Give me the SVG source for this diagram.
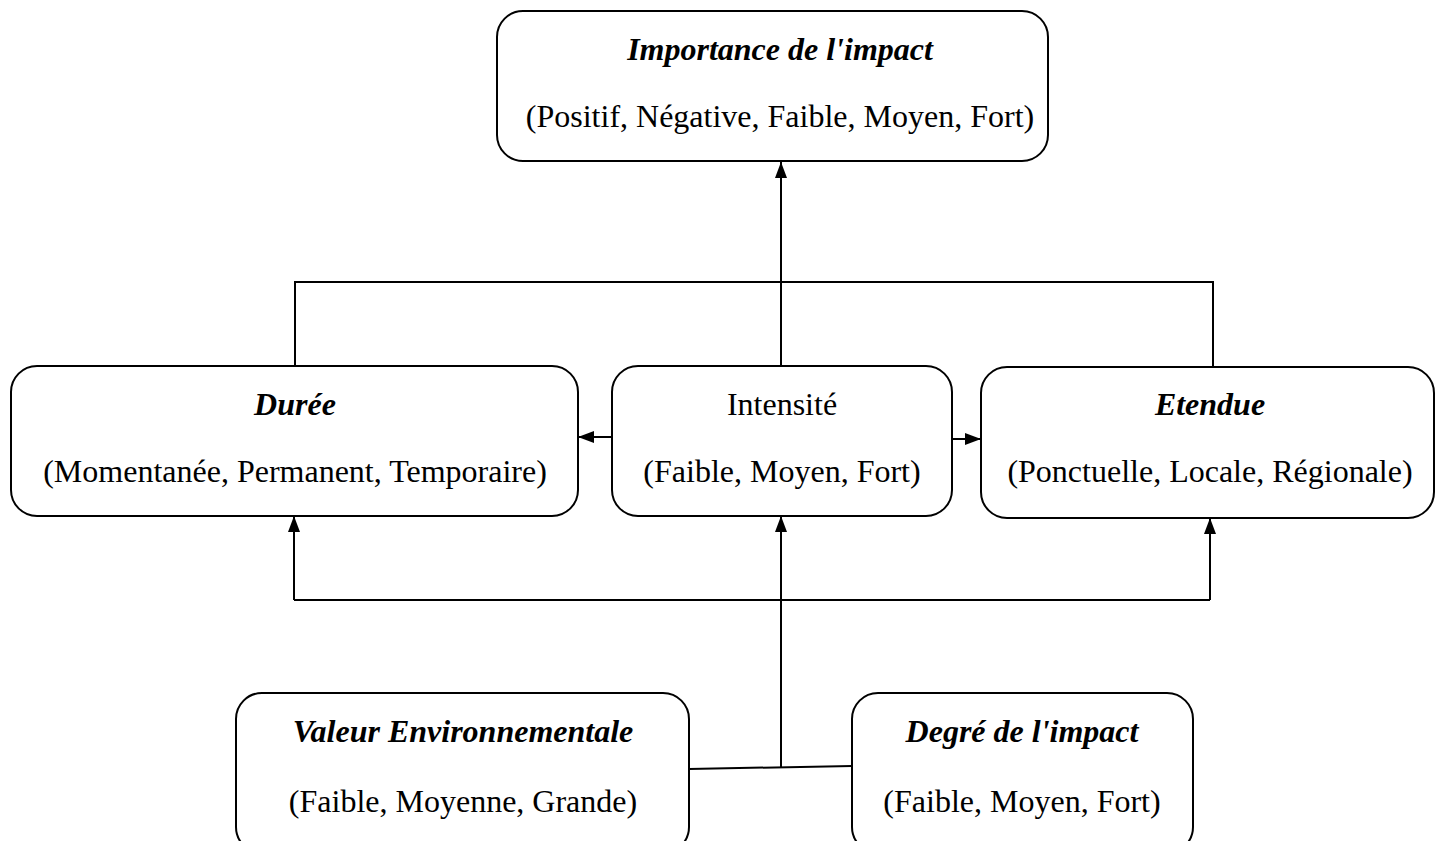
<svg xmlns="http://www.w3.org/2000/svg" width="1446" height="841" viewBox="0 0 1446 841">
<style>
.box{fill:#fff;stroke:#000;stroke-width:2}
.t{font-family:"Liberation Serif","Times New Roman",serif;font-size:32px;fill:#000;text-anchor:middle}
.bi{font-weight:bold;font-style:italic}
.c{fill:none;stroke:#000;stroke-width:2}
</style>
<defs>
<marker id="ah" viewBox="0 0 16 12" refX="16" refY="6" markerWidth="16" markerHeight="12" markerUnits="userSpaceOnUse" orient="auto">
<path d="M0,0 L16,6 L0,12 Z" fill="#000"/>
</marker>
</defs>
<g id="connectors">
<line class="c" x1="781" y1="366" x2="781" y2="162" marker-end="url(#ah)"/>
<polyline class="c" points="295,366 295,282 1214,282"/>
<line class="c" x1="1213" y1="282" x2="1213" y2="367"/>
<line class="c" x1="612" y1="437" x2="578" y2="437" marker-end="url(#ah)"/>
<line class="c" x1="952" y1="439" x2="981" y2="439" marker-end="url(#ah)"/>
<line class="c" x1="294" y1="600" x2="1210" y2="600"/>
<line class="c" x1="294" y1="600" x2="294" y2="516" marker-end="url(#ah)"/>
<line class="c" x1="1210" y1="600" x2="1210" y2="518" marker-end="url(#ah)"/>
<line class="c" x1="781" y1="767" x2="781" y2="516" marker-end="url(#ah)"/>
<line class="c" x1="689" y1="769" x2="852" y2="766"/>
</g>
<g id="importance">
<rect class="box" x="497" y="11" width="551" height="150" rx="26"/>
<text class="t bi" x="780" y="60">Importance de l'impact</text>
<text class="t" x="780" y="127">(Positif, Négative, Faible, Moyen, Fort)</text>
</g>
<g id="duree">
<rect class="box" x="11" y="366" width="567" height="150" rx="26"/>
<text class="t bi" x="295" y="415">Durée</text>
<text class="t" x="295" y="482">(Momentanée, Permanent, Temporaire)</text>
</g>
<g id="intensite">
<rect class="box" x="612" y="366" width="340" height="150" rx="26"/>
<text class="t" x="782" y="415">Intensité</text>
<text class="t" x="782" y="482">(Faible, Moyen, Fort)</text>
</g>
<g id="etendue">
<rect class="box" x="981" y="367" width="453" height="151" rx="26"/>
<text class="t bi" x="1210" y="415">Etendue</text>
<text class="t" x="1210" y="482">(Ponctuelle, Locale, Régionale)</text>
</g>
<g id="valeur">
<rect class="box" x="236" y="693" width="453" height="160" rx="26"/>
<text class="t bi" x="463" y="742">Valeur Environnementale</text>
<text class="t" x="463" y="812">(Faible, Moyenne, Grande)</text>
</g>
<g id="degre">
<rect class="box" x="852" y="693" width="341" height="160" rx="26"/>
<text class="t bi" x="1022" y="742">Degré de l'impact</text>
<text class="t" x="1022" y="812">(Faible, Moyen, Fort)</text>
</g>
</svg>
